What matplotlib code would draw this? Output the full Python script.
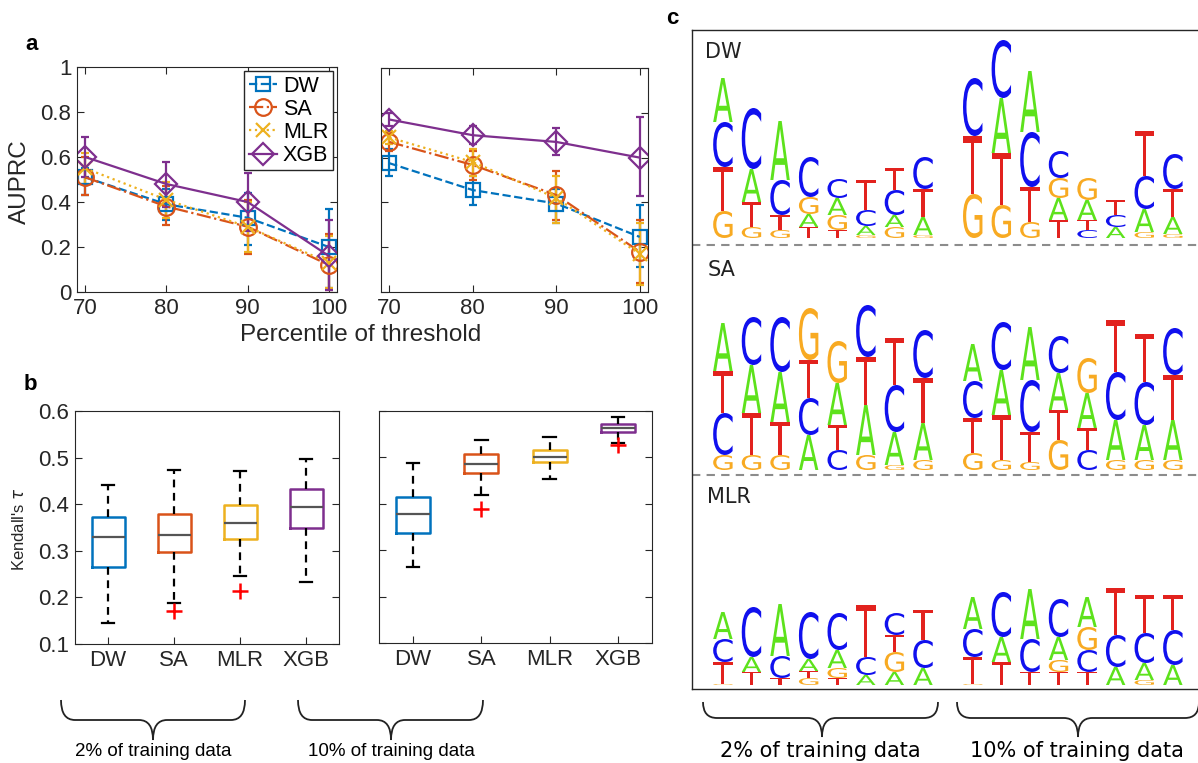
import matplotlib.pyplot as plt
import numpy as np
import matplotlib.transforms as mtransforms
from matplotlib.textpath import TextPath
from matplotlib.patches import PathPatch
from matplotlib.path import Path
from matplotlib.font_manager import FontProperties

plt.rcParams['font.family'] = ['Liberation Sans', 'DejaVu Sans']

# ---------------- data ----------------
models = ['DW', 'SA', 'MLR', 'XGB']
colors = ['#0072BD', '#D95319', '#EDB120', '#7E2F8E']
thresholds = [70, 80, 90, 100]

# panel a: AUPRC mean, lower and upper error limits
auprc_2 = [[0.51, 0.39, 0.33, 0.20],
           [0.51, 0.38, 0.29, 0.12],
           [0.55, 0.41, 0.29, 0.13],
           [0.60, 0.48, 0.40, 0.16]]
auprc_2_lo = [[0.43, 0.32, 0.21, 0.02],
              [0.43, 0.30, 0.17, 0.01],
              [0.48, 0.33, 0.18, 0.02],
              [0.51, 0.38, 0.27, 0.01]]
auprc_2_hi = [[0.55, 0.46, 0.44, 0.37],
              [0.60, 0.47, 0.41, 0.26],
              [0.62, 0.49, 0.40, 0.25],
              [0.69, 0.58, 0.53, 0.32]]

auprc_10 = [[0.575, 0.455, 0.395, 0.246],
            [0.67, 0.567, 0.433, 0.18],
            [0.69, 0.58, 0.42, 0.17],
            [0.77, 0.70, 0.67, 0.60]]
auprc_10_lo = [[0.52, 0.39, 0.31, 0.11],
               [0.63, 0.50, 0.32, 0.04],
               [0.66, 0.52, 0.31, 0.03],
               [0.74, 0.66, 0.61, 0.43]]
auprc_10_hi = [[0.64, 0.52, 0.46, 0.39],
               [0.71, 0.63, 0.54, 0.32],
               [0.72, 0.64, 0.52, 0.31],
               [0.80, 0.74, 0.73, 0.78]]

# panel b: Kendall's tau box statistics (DW, SA, MLR, XGB)
tau_2_whislo = [0.144, 0.189, 0.246, 0.234]
tau_2_q1 = [0.266, 0.298, 0.326, 0.350]
tau_2_med = [0.330, 0.334, 0.360, 0.393]
tau_2_q3 = [0.373, 0.380, 0.398, 0.432]
tau_2_whishi = [0.442, 0.474, 0.471, 0.498]
tau_2_fliers = [[], [0.171], [0.214], []]

tau_10_whislo = [0.264, 0.418, 0.453, 0.530]
tau_10_q1 = [0.338, 0.467, 0.490, 0.555]
tau_10_med = [0.378, 0.485, 0.500, 0.563]
tau_10_q3 = [0.414, 0.507, 0.515, 0.572]
tau_10_whishi = [0.487, 0.538, 0.543, 0.586]
tau_10_fliers = [[], [0.389], [], [0.526]]

# panel c: sequence logos, letters stacked bottom to top (height in centibits)
DW_2 = [[('G', 27), ('T', 44), ('C', 45), ('A', 44)],
        [('G', 11), ('T', 25), ('A', 33), ('C', 61)],
        [('G', 8), ('T', 15), ('C', 35), ('A', 59)],
        [('T', 11), ('A', 13), ('G', 17), ('C', 40)],
        [('T', 8), ('G', 15), ('A', 17), ('C', 19)],
        [('G', 3), ('A', 9), ('C', 16), ('T', 30)],
        [('G', 11), ('A', 12), ('C', 25), ('T', 22)],
        [('G', 3), ('A', 18), ('T', 28), ('C', 32)]]
DW_10 = [[('G', 44), ('T', 58), ('C', 58)],
         [('G', 33), ('T', 52), ('A', 55), ('C', 58)],
         [('G', 16), ('T', 35), ('C', 55), ('A', 61)],
         [('T', 18), ('A', 22), ('G', 20), ('C', 27)],
         [('C', 8), ('T', 10), ('A', 20), ('G', 22)],
         [('A', 11), ('C', 12), ('T', 15)],
         [('G', 6), ('A', 23), ('C', 33), ('T', 45)],
         [('G', 4), ('A', 17), ('T', 28), ('C', 35)]]
SA_2 = [[('G', 15), ('C', 42), ('T', 42), ('A', 48)],
        [('G', 15), ('T', 42), ('A', 48), ('C', 48)],
        [('G', 15), ('T', 33), ('A', 50), ('C', 55)],
        [('A', 35), ('C', 37), ('T', 38), ('G', 52)],
        [('C', 20), ('T', 25), ('A', 42), ('G', 42)],
        [('G', 15), ('A', 50), ('T', 48), ('C', 52)],
        [('G', 5), ('A', 33), ('C', 47), ('T', 47)],
        [('G', 10), ('A', 37), ('T', 45), ('C', 48)]]
SA_10 = [[('G', 17), ('T', 35), ('C', 37), ('A', 37)],
         [('G', 10), ('T', 45), ('A', 45), ('C', 48)],
         [('G', 8), ('T', 30), ('C', 52), ('A', 53)],
         [('G', 30), ('T', 30), ('A', 37), ('C', 37)],
         [('C', 20), ('T', 22), ('A', 35), ('G', 35)],
         [('G', 10), ('A', 40), ('C', 48), ('T', 52)],
         [('G', 10), ('A', 35), ('C', 43), ('T', 48)],
         [('G', 10), ('A', 40), ('T', 45), ('C', 47)]]
MLR_2 = [[('G', 1), ('T', 22), ('C', 23), ('A', 27)],
         [('T', 13), ('A', 15), ('C', 50)],
         [('T', 7), ('C', 22), ('A', 52)],
         [('G', 7), ('T', 7), ('A', 12), ('C', 47)],
         [('T', 7), ('G', 10), ('A', 18), ('C', 37)],
         [('A', 10), ('C', 18), ('T', 52)],
         [('A', 13), ('G', 20), ('T', 17), ('C', 22)],
         [('A', 17), ('C', 28), ('T', 30)]]
MLR_10 = [[('G', 1), ('T', 27), ('C', 28), ('A', 32)],
          [('T', 23), ('A', 25), ('C', 45)],
          [('T', 13), ('C', 33), ('A', 50)],
          [('T', 13), ('G', 12), ('A', 23), ('C', 38)],
          [('T', 13), ('C', 22), ('G', 23), ('A', 30)],
          [('A', 18), ('C', 32), ('T', 47)],
          [('G', 5), ('A', 17), ('C', 30), ('T', 38)],
          [('A', 20), ('C', 35), ('T', 35)]]

logo_colors = {'A': '#5de21c', 'C': '#1010ee', 'G': '#f8aa22', 'T': '#e2221e'}

# ---------------- figure ----------------
W, H = 1198, 763
fig = plt.figure(figsize=(W / 100, H / 100), dpi=100)
spine_c = '#262626'


def px_axes(x0, y0, x1, y1):
    return fig.add_axes([x0 / W, 1 - y1 / H, (x1 - x0) / W, (y1 - y0) / H])


def style_axes(ax):
    for s in ax.spines.values():
        s.set_color(spine_c)
        s.set_linewidth(0.8)
    ax.tick_params(direction='in', top=True, right=True, length=5,
                   labelsize=16, color=spine_c, labelcolor='#262626', pad=4)


line_styles = ['--', '-.', ':', '-']
markers = ['s', 'o', 'x', 'D']
msizes = [10, 12, 10, 11]


def plot_auprc(ax, mean, lo, hi, legend=False):
    handles = []
    for i, m in enumerate(models):
        mu = np.array(mean[i])
        yerr = [mu - np.array(lo[i]), np.array(hi[i]) - mu]
        cont = ax.errorbar(thresholds, mu, yerr=yerr, color=colors[i], ls=line_styles[i],
                           marker=markers[i], ms=msizes[i], mfc='none', mew=1.6, lw=1.6,
                           capsize=3, capthick=1.6, elinewidth=1.6, label=m)
        handles.append(cont.lines[0])
    ax.set_xlim(69, 101)
    ax.set_ylim(0, 1)
    ax.set_xticks(thresholds)
    ax.set_yticks([0, 0.2, 0.4, 0.6, 0.8, 1])
    ax.set_yticklabels(['0', '0.2', '0.4', '0.6', '0.8', '1'])
    style_axes(ax)
    if legend:
        leg = ax.legend(handles, models, loc='upper right', bbox_to_anchor=(1.0, 1.0),
                        fontsize=15.5, handlelength=1.3, handletextpad=0.3,
                        borderpad=0.2, labelspacing=0.1, borderaxespad=0.2,
                        fancybox=False, framealpha=1, edgecolor='#262626')
        leg.get_frame().set_linewidth(1.0)


ax_a1 = px_axes(77, 67, 337, 292)
plot_auprc(ax_a1, auprc_2, auprc_2_lo, auprc_2_hi, legend=True)
ax_a2 = px_axes(381, 68, 648, 292)
plot_auprc(ax_a2, auprc_10, auprc_10_lo, auprc_10_hi)
ax_a2.set_yticklabels([])


def plot_tau(ax, whislo, q1, med, q3, whishi, fliers):
    stats = []
    for i, m in enumerate(models):
        stats.append(dict(whislo=whislo[i], q1=q1[i], med=med[i], q3=q3[i],
                          whishi=whishi[i], fliers=fliers[i], label=m))
    bp = ax.bxp(stats, widths=0.5, capwidths=0.18,
                whiskerprops=dict(color='k', lw=1.6, ls=(0, (3.5, 2.5))),
                capprops=dict(color='k', lw=1.6),
                medianprops=dict(color='#555555', lw=1.6),
                flierprops=dict(marker='+', mec='#ff0000', ms=12, mew=1.8))
    for box, c in zip(bp['boxes'], colors):
        box.set_color(c)
        box.set_linewidth(1.8)
    ax.set_xlim(0.5, 4.5)
    ax.set_ylim(0.1, 0.6)
    ax.set_yticks([0.1, 0.2, 0.3, 0.4, 0.5, 0.6])
    style_axes(ax)
    ax.tick_params(axis='x', top=False)


ax_b1 = px_axes(75, 411, 339, 644)
plot_tau(ax_b1, tau_2_whislo, tau_2_q1, tau_2_med, tau_2_q3, tau_2_whishi, tau_2_fliers)
ax_b2 = px_axes(379, 411, 652, 643)
plot_tau(ax_b2, tau_10_whislo, tau_10_q1, tau_10_med, tau_10_q3, tau_10_whishi, tau_10_fliers)
ax_b2.set_yticklabels([])

# ---------------- panel c: sequence logos ----------------
ax_c = px_axes(692, 30, 1206, 689)
ax_c.set_xlim(-1.08, 16.9)
ax_c.set_ylim(-0.04, 6.55)
ax_c.set_xticks([])
ax_c.set_yticks([])
for s in ax_c.spines.values():
    s.set_color(spine_c)
    s.set_linewidth(1.0)

letter_font = FontProperties(family='DejaVu Sans')
letter_w = 0.68
gap_offset = 8.74
section_base = {'DW': 4.47, 'SA': 2.15, 'MLR': 0.0}
logos = {'DW': (DW_2, DW_10), 'SA': (SA_2, SA_10), 'MLR': (MLR_2, MLR_10)}


def draw_letter(ax, ch, xc, y0, w, h):
    tp = TextPath((0, 0), ch, size=1, prop=letter_font)
    bb = tp.get_extents()
    tr = (mtransforms.Affine2D().translate(-bb.x0, -bb.y0)
          .scale(w / bb.width, h / bb.height).translate(xc - w / 2, y0))
    ax.add_patch(PathPatch(tr.transform_path(tp), lw=0, fc=logo_colors[ch]))


for name, (cols_2, cols_10) in logos.items():
    base = section_base[name]
    for offset, cols in ((0, cols_2), (gap_offset, cols_10)):
        for j, col in enumerate(cols):
            y = base
            for ch, hgt in col:
                draw_letter(ax_c, ch, offset + j, y, letter_w, hgt / 100)
                y += hgt / 100

for yl in (4.40, 2.10):
    ax_c.axhline(yl, color='#8c8c8c', ls=(0, (4, 3)), lw=1.5)

ax_c.text(0.025, 0.967, 'DW', transform=ax_c.transAxes, fontsize=15,
          family='DejaVu Sans', va='center', color='#222222')
ax_c.text(0.03, 0.636, 'SA', transform=ax_c.transAxes, fontsize=15,
          family='DejaVu Sans', va='center', color='#222222')
ax_c.text(0.03, 0.291, 'MLR', transform=ax_c.transAxes, fontsize=15,
          family='DejaVu Sans', va='center', color='#222222')

# ---------------- overlay: labels and braces ----------------
ov = fig.add_axes([0, 0, 1, 1])
ov.set_xlim(0, W)
ov.set_ylim(H, 0)
ov.axis('off')


def brace(x0, x1, xc, y_top, y_line, y_tip, r=14, lw=1.3):
    verts = [(x0, y_top), (x0, y_line), (x0 + r, y_line),
             (xc - r, y_line), (xc, y_line), (xc, y_tip),
             (xc, y_line), (xc + r, y_line),
             (x1 - r, y_line), (x1, y_line), (x1, y_top)]
    codes = [Path.MOVETO, Path.CURVE3, Path.CURVE3,
             Path.LINETO, Path.CURVE3, Path.CURVE3,
             Path.CURVE3, Path.CURVE3,
             Path.LINETO, Path.CURVE3, Path.CURVE3]
    ov.add_patch(PathPatch(Path(verts, codes), fc='none', ec='#222222', lw=lw))


for lab, x, y in (('a', 32, 45), ('b', 30, 385), ('c', 672, 18)):
    ov.text(x, y, lab, fontsize=16, fontweight='bold', ha='center', va='center')

ov.text(361, 335, 'Percentile of threshold', fontsize=17.5, ha='center', va='center',
        color='#262626')
ov.text(20, 182, 'AUPRC', fontsize=17.5, rotation=90, ha='center', va='center',
        color='#262626')
ov.text(19, 529, "Kendall's $\\tau$", fontsize=12, rotation=90, ha='center',
        va='center', color='#262626')

brace(61, 245, 153, 700, 720, 740)
brace(298, 483, 391, 700, 720, 740)
ov.text(153, 751, '2% of training data', fontsize=13.5, ha='center', va='center')
ov.text(391, 751, '10% of training data', fontsize=13.5, ha='center', va='center')

brace(703, 938, 822, 702, 718, 737)
brace(957, 1199, 1078, 702, 718, 737)
ov.text(820, 751, '2% of training data', fontsize=15, ha='center', va='center',
        family='DejaVu Sans')
ov.text(1077, 751, '10% of training data', fontsize=15, ha='center', va='center',
        family='DejaVu Sans')

fig.savefig('out.png', dpi=100)
